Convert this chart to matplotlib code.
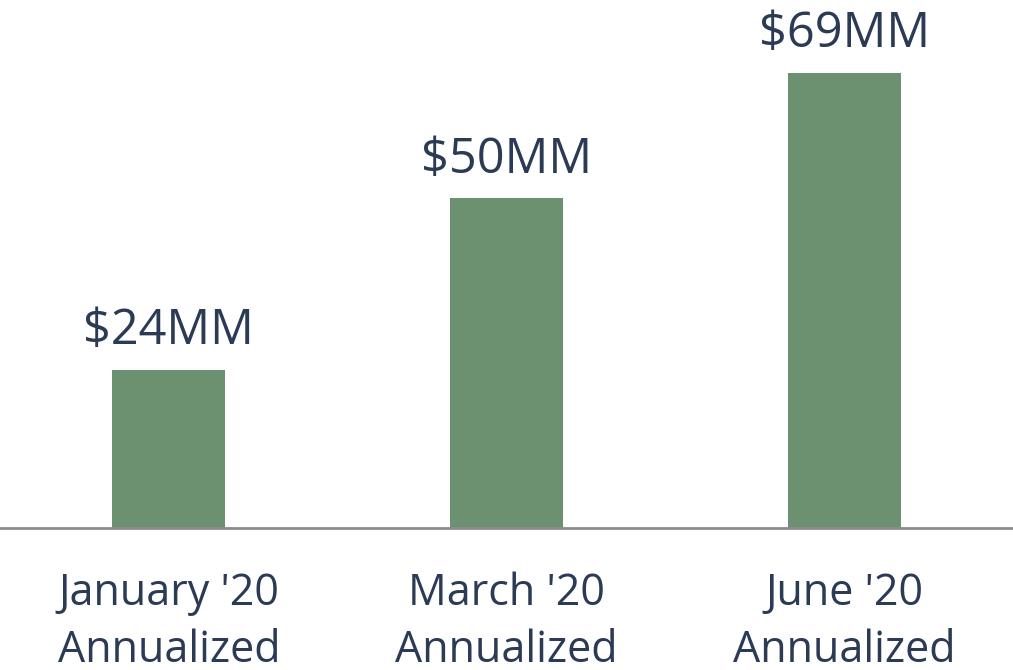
import numpy as np
import matplotlib.pyplot as plt

plt.rcParams['font.family'] = ['Open Sans', 'DejaVu Sans']

labels = ["January '20\nAnnualized", "March '20\nAnnualized", "June '20\nAnnualized"]
values = [24, 50, 69]
value_text = ["$24MM", "$50MM", "$69MM"]

text_color = "#2b3a55"
bar_color = "#6b9170"

fig = plt.figure(figsize=(10.13, 6.70), dpi=100)
ax = fig.add_axes([0, 0.212, 1, 0.788])

x = np.arange(len(values))
ax.bar(x, values, width=0.334, color=bar_color)

for xi, v, t in zip(x, values, value_text):
    ax.text(xi, v + 3.9, t, ha='center', va='baseline', fontsize=35, color=text_color)

ax.set_xlim(-0.5, 2.5)
ax.set_ylim(0, 80.1)
ax.set_yticks([])
ax.set_xticks(x)
ax.set_xticklabels(labels, fontsize=31, color=text_color, linespacing=1.4)
ax.tick_params(axis='x', length=0, pad=31)

for s in ['top', 'right', 'left']:
    ax.spines[s].set_visible(False)
ax.spines['bottom'].set_color('#8c8c8c')
ax.spines['bottom'].set_linewidth(2)

fig.savefig('out.png', dpi=100)
